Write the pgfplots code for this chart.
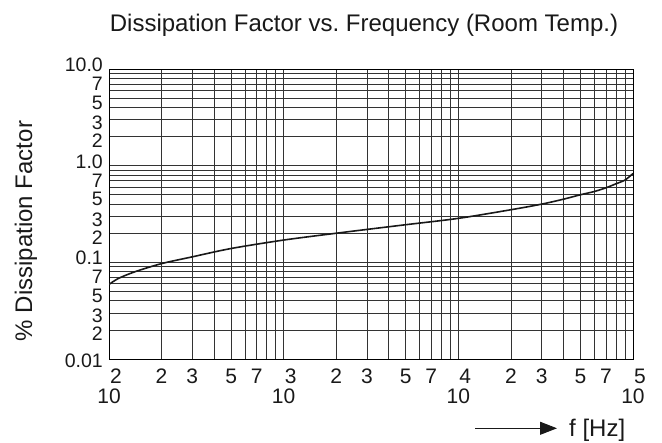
\documentclass[border=0pt]{standalone}
\usepackage{fontspec}
\setmainfont{Liberation Sans}
\usepackage{pgfplots}
\pgfplotsset{compat=1.18}
\usetikzlibrary{arrows.meta}
\newcommand{\ex}[1]{\makebox[0pt]{\hspace{14pt}#1}}
\newcommand{\sh}[2]{\raisebox{#1}{#2}}
\begin{document}
\begin{tikzpicture}[x=1pt,y=1pt]
\useasboundingbox (0,0) rectangle (662,443);
\begin{axis}[
  at={(109pt,84pt)}, anchor=south west,
  scale only axis, width=524pt, height=290pt,
  xmode=log, ymode=log,
  xmin=100, xmax=100000, ymin=0.01, ymax=10,
  xtick={100,200,300,400,500,600,700,800,900,1000,2000,3000,4000,5000,6000,7000,8000,9000,10000,20000,30000,40000,50000,60000,70000,80000,90000,100000},
  xticklabels={{\ex{2}\\10},2,3,{},5,{},7,{},{},{\ex{3}\\10},2,3,{},5,{},7,{},{},{\ex{4}\\10},2,3,{},5,{},7,{},{},{\ex{5}\\10}},
  ytick={0.01,0.02,0.03,0.04,0.05,0.06,0.07,0.08,0.09,0.1,0.2,0.3,0.4,0.5,0.6,0.7,0.8,0.9,1,2,3,4,5,6,7,8,9,10},
  yticklabels={\sh{-2pt}{0.01},\sh{-4pt}{2},\sh{-3pt}{3},{},\sh{-4pt}{5},{},\sh{0.5pt}{7},{},{},
               \sh{4.5pt}{0.1},\sh{-4pt}{2},\sh{-3pt}{3},{},\sh{-4pt}{5},{},\sh{0.5pt}{7},{},{},
               \sh{4.5pt}{1.0},\sh{-4pt}{2},\sh{-3pt}{3},{},\sh{-4pt}{5},{},\sh{0.5pt}{7},{},{},
               \sh{4pt}{10.0}},
  xticklabel style={font=\fontsize{21}{20}\selectfont, align=center, anchor=north, inner sep=0pt, yshift=-10pt, text=black!90},
  yticklabel style={font=\fontsize{19.5}{20}\selectfont, anchor=east, inner sep=0pt, xshift=-6pt, text=black!90, text height=14pt, text depth=0pt},
  /pgf/number format/assume math mode=true,
  major tick length=0pt, minor tick length=0pt,
  grid=major,
  major grid style={black!80, line width=0.7pt},
  axis line style={black, line width=0.8pt},
]
\addplot[black!90, line width=1.6pt, smooth] coordinates {
(100,0.059) (113,0.068) (141,0.080) (200,0.097) (300,0.114) (500,0.139)
(1000,0.170) (2000,0.200) (3000,0.219) (5000,0.245) (10000,0.285)
(20000,0.35) (30000,0.40) (40000,0.45) (50000,0.50) (60000,0.54)
(70000,0.59) (80000,0.65) (90000,0.71) (100000,0.83)
};
\end{axis}
\node[anchor=base, inner sep=0pt, font=\fontsize{24}{28}\selectfont, text=black!90] at (364,411.3) {Dissipation Factor vs.\ Frequency (Room Temp.)};
\node[rotate=90, anchor=base, inner sep=0pt, font=\fontsize{24}{28}\selectfont, text=black!90] at (32,212) {\% Dissipation Factor};
\draw[black!90, line width=1pt, -{Triangle[length=17pt,width=13pt]}] (475,14.7) -- (557,14.7);
\node[anchor=base west, inner sep=0pt, font=\fontsize{24}{28}\selectfont, text=black!90] at (569,6) {f [Hz]};
\end{tikzpicture}
\end{document}
